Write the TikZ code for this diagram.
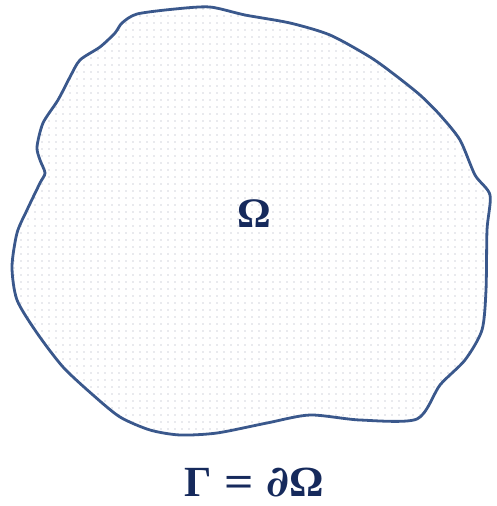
\documentclass[tikz,border=0pt]{standalone}
\usepackage{fontspec}
\setmainfont{Liberation Serif}
\newfontfamily\partialfont{DejaVu Serif}
\usepackage{graphicx}
\usepackage{tikz}
\usetikzlibrary{patterns.meta}
\definecolor{rimblue}{RGB}{58,88,140}
\definecolor{inknavy}{RGB}{22,42,92}
\definecolor{dotgray}{RGB}{160,166,180}

\begin{document}
\begin{tikzpicture}[x=1pt,y=-1pt]
  \useasboundingbox (0,0) rectangle (496,506);
  \draw[rimblue,line width=2.8pt,line join=round,
        pattern={Dots[distance=7pt,radius=0.6pt]},pattern color=dotgray]
    plot[smooth cycle,tension=0.45] coordinates {
      (137,14) (175,9) (210,7) (245,15) (290,23) (330,35) (370,57)
      (395,75) (420,95) (440,115) (460,140) (475,175) (490,195)
      (487,230) (486,290) (482,330) (465,360) (440,385) (417,419)
      (360,420) (310,415) (267,423) (217,433) (180,435) (150,430)
      (120,417) (93,395) (63,367) (37,333) (17,300) (12,267)
      (17,233) (27,210) (40,183) (45,173) (40,160) (37,147)
      (43,123) (58,100) (70,77) (80,60) (100,47) (115,33) (122,23)};
  \node[inknavy,font=\fontsize{42}{48}\selectfont\bfseries] (omega) at (254,214) {Ω};
  \node[inknavy,inner sep=0pt,font=\fontsize{43}{48}\selectfont\bfseries] (gamma) at (254,483)
    {Γ\hspace{0.3em}\scalebox{1.2}[1]{=}\hspace{0.3em}{\partialfont ∂}Ω};
\end{tikzpicture}
\end{document}
